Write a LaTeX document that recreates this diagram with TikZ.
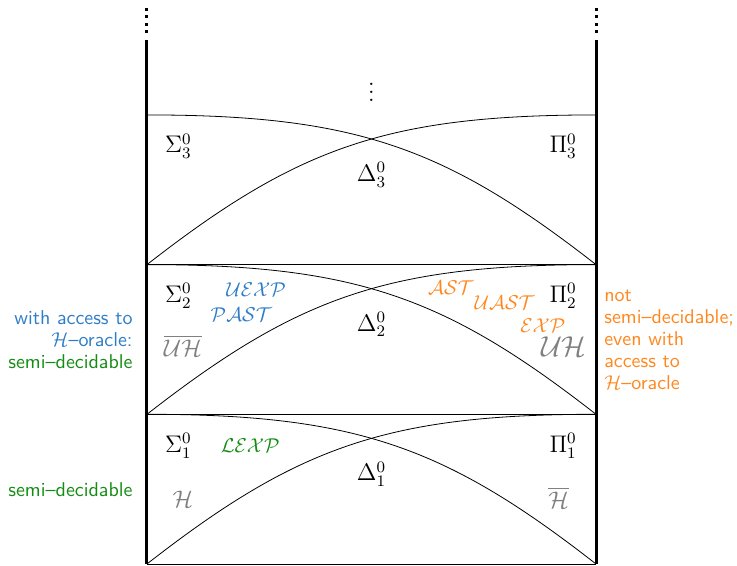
\documentclass[tikz,border=0pt]{standalone}
\usepackage{amsmath}
\definecolor{oracleblue}{RGB}{45,125,200}
\definecolor{decgreen}{RGB}{20,140,20}
\definecolor{undecorange}{RGB}{255,135,30}
\tikzset{
  wall/.style={line width=1.5pt},
  walldots/.style={line width=1.5pt,dash pattern=on 1.5pt off 2.3pt},
  hier/.style={font=\large},
  probclass/.style={font=\normalsize},
  sidetext/.style={font=\sffamily\fontsize{10}{11}\selectfont,inner sep=0pt}
}

\begin{document}
\begin{tikzpicture}[x=2.63cm,y=2.63cm]
  \useasboundingbox (-0.982,-0.007) rectangle (3.942,3.768);
  \draw (0,0) -- (3,0);
  \draw (0,1) -- (3,1);
  \draw (0,2) -- (3,2);
  \draw (0,0) .. controls (1,0.78) and (1.6,1) .. (3,1);
  \draw (0,1) .. controls (1.4,1) and (2,0.78) .. (3,0);
  \draw (0,1) .. controls (1,1.78) and (1.6,2) .. (3,2);
  \draw (0,2) .. controls (1.4,2) and (2,1.78) .. (3,1);
  \draw (0,2) .. controls (1,2.78) and (1.6,3) .. (3,3);
  \draw (0,3) .. controls (1.4,3) and (2,2.78) .. (3,2);
  \draw[wall] (0,0) -- (0,3.5);
  \draw[wall] (3,0) -- (3,3.5);
  \draw[walldots] (0,3.545) -- (0,3.73);
  \draw[walldots] (3,3.545) -- (3,3.73);
  \node[hier] (vdots) at (1.5,3.19) {$\vdots$};
  \node[hier] (sigma1) at (0.21,0.79) {$\Sigma^0_1$};
  \node[hier] (pi1) at (2.78,0.79) {$\Pi^0_1$};
  \node[hier] (delta1) at (1.5,0.6) {$\Delta^0_1$};
  \node[hier] (sigma2) at (0.21,1.79) {$\Sigma^0_2$};
  \node[hier] (pi2) at (2.78,1.79) {$\Pi^0_2$};
  \node[hier] (delta2) at (1.5,1.6) {$\Delta^0_2$};
  \node[hier] (sigma3) at (0.21,2.79) {$\Sigma^0_3$};
  \node[hier] (pi3) at (2.78,2.79) {$\Pi^0_3$};
  \node[hier] (delta3) at (1.5,2.6) {$\Delta^0_3$};
  \node[probclass,text=decgreen] (lexp) at (0.69,0.79) {$\mathcal{LEXP}$};
  \node[font=\large,text=gray] (halt) at (0.24,0.43) {$\mathcal{H}$};
  \node[font=\large,text=gray] (cohalt) at (2.75,0.44) {$\overline{\mathcal{H}}$};
  \node[probclass,text=oracleblue] (uexp) at (0.73,1.835) {$\mathcal{UEXP}$};
  \node[probclass,text=oracleblue] (past) at (0.63,1.665) {$\mathcal{PAST}$};
  \node[font=\large,text=gray] (couhalt) at (0.24,1.46) {$\overline{\mathcal{UH}}$};
  \node[probclass,text=undecorange] (ast) at (2.03,1.845) {$\mathcal{AST}$};
  \node[probclass,text=undecorange] (uast) at (2.39,1.745) {$\mathcal{UAST}$};
  \node[probclass,text=undecorange] (exp) at (2.645,1.59) {$\mathcal{EXP}$};
  \node[font=\Large,text=gray] (uhalt) at (2.785,1.45) {$\mathcal{UH}$};
  \node[sidetext,anchor=east,align=right,text=oracleblue] (oraclenote) at (-0.094,1.5)
    {with access to\\ $\mathcal{H}$--oracle:\\ \textcolor{decgreen}{semi--decidable}};
  \node[sidetext,anchor=east,align=right,text=decgreen] (semidec) at (-0.094,0.495) {semi--decidable};
  \node[sidetext,anchor=west,align=left,text=undecorange] (notsemidec) at (3.053,1.5)
    {not\\ semi--decidable;\\ even with\\ access to\\ $\mathcal{H}$--oracle};
\end{tikzpicture}
\end{document}
